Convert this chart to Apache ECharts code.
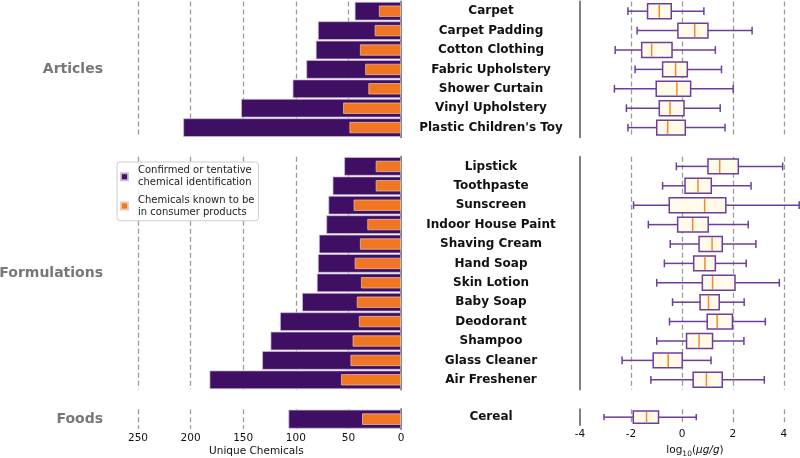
<!DOCTYPE html>
<html>
<head>
<meta charset="utf-8">
<script src="https://cdn.jsdelivr.net/npm/echarts@6/dist/echarts.min.js"></script>
<style>
  html, body { margin: 0; padding: 0; background: #fff; }
  #chart { width: 800px; height: 458px; }
</style>
</head>
<body>
<div id="chart"></div>
<script>
// categories per group, top to bottom
const groupLabels = ['Articles', 'Formulations', 'Foods'];
const articleNames = ['Carpet', 'Carpet Padding', 'Cotton Clothing', 'Fabric Upholstery', 'Shower Curtain', 'Vinyl Upholstery', "Plastic Children's Toy"];
const formulationNames = ['Lipstick', 'Toothpaste', 'Sunscreen', 'Indoor House Paint', 'Shaving Cream', 'Hand Soap', 'Skin Lotion', 'Baby Soap', 'Deodorant', 'Shampoo', 'Glass Cleaner', 'Air Freshener'];
const foodNames = ['Cereal'];

// unique chemicals (bars)
const articleIdentified = [44, 79, 81, 90, 103, 152, 207];
const articleConsumer = [21, 25, 39, 34, 31, 55, 49];
const formulationIdentified = [54, 65, 69, 71, 78, 79, 80, 94, 115, 124, 132, 182];
const formulationConsumer = [24, 24, 45, 32, 39, 44, 38, 42, 40, 46, 48, 57];
const foodIdentified = [107];
const foodConsumer = [37];

// log10(ug/g) boxes: [min, q1, median, q3, max]
const articleBoxes = [
  [-2.12, -1.35, -0.89, -0.42, 0.86],
  [-1.76, -0.16, 0.50, 1.02, 2.75],
  [-2.62, -1.58, -1.19, -0.39, 1.31],
  [-1.84, -0.76, -0.25, 0.21, 1.55],
  [-2.65, -1.01, -0.20, 0.34, 2.01],
  [-2.18, -0.89, -0.47, 0.08, 1.50],
  [-2.12, -0.99, -0.56, 0.13, 1.69],
];
const formulationBoxes = [
  [-0.22, 1.02, 1.48, 2.21, 3.95],
  [-0.76, 0.12, 0.63, 1.15, 2.71],
  [-1.90, -0.50, 0.89, 1.72, 4.60],
  [-1.32, -0.17, 0.42, 1.03, 2.60],
  [-0.46, 0.67, 1.18, 1.58, 2.90],
  [-0.69, 0.46, 0.90, 1.31, 2.52],
  [-0.99, 0.80, 1.20, 2.08, 3.82],
  [-0.37, 0.71, 1.04, 1.46, 2.44],
  [-0.49, 0.99, 1.38, 1.98, 3.27],
  [-0.99, 0.18, 0.67, 1.20, 2.43],
  [-2.35, -1.13, -0.54, 0.01, 1.14],
  [-1.22, 0.44, 0.96, 1.58, 3.23],
];
const foodBoxes = [
  [-3.06, -1.91, -1.39, -0.92, 0.56],
];

const seriesIdentified = 'Confirmed or tentative chemical identification';
const seriesConsumer = 'Chemicals known to be in consumer products';

const groups = [
  { names: articleNames, identified: articleIdentified, consumer: articleConsumer, boxes: articleBoxes },
  { names: formulationNames, identified: formulationIdentified, consumer: formulationConsumer, boxes: formulationBoxes },
  { names: foodNames, identified: foodIdentified, consumer: foodConsumer, boxes: foodBoxes },
];

// layout (pixels)
const panelTop = [1.5, 156.7, 409.3];
const panelHeight = [135.8, 232.8, 19.7];

const purple = '#3f0f63';
const orange = '#f07623';
const boxEdge = '#6c3f9c';
const boxFill = '#fffbe8';
const medianColor = '#f58630';
const gridColor = '#9c9c9c';
const spineColor = '#7f7f7f';

function renderBox(params, api) {
  const row = api.value(0);
  const lo = api.coord([api.value(1), row]);
  const q1 = api.coord([api.value(2), row]);
  const med = api.coord([api.value(3), row]);
  const q3 = api.coord([api.value(4), row]);
  const hi = api.coord([api.value(5), row]);
  const band = api.size([0, 1])[1];
  const half = band * 0.385;
  const cap = band * 0.2;
  const cy = lo[1];
  const seg = (x1, y1, x2, y2, stroke) => ({
    type: 'line',
    shape: { x1, y1, x2, y2 },
    style: { stroke, lineWidth: 1.5 },
  });
  return {
    type: 'group',
    children: [
      seg(lo[0], cy, q1[0], cy, boxEdge),
      seg(q3[0], cy, hi[0], cy, boxEdge),
      seg(lo[0], cy - cap, lo[0], cy + cap, boxEdge),
      seg(hi[0], cy - cap, hi[0], cy + cap, boxEdge),
      {
        type: 'rect',
        shape: { x: q1[0], y: cy - half, width: q3[0] - q1[0], height: half * 2 },
        style: { fill: boxFill, stroke: boxEdge, lineWidth: 1.5 },
      },
      seg(med[0], cy - half + 0.8, med[0], cy + half - 0.8, medianColor),
    ],
  };
}

const grid = [];
const xAxis = [];
const yAxis = [];
const series = [];
const graphic = [];

groups.forEach((g, i) => {
  const last = i === groups.length - 1;
  const top = panelTop[i];
  const height = panelHeight[i];
  grid.push({ left: 111.7, width: 289.3, top, height });
  grid.push({ left: 580, right: 0, top, height });

  // bars: reversed count axis
  xAxis.push({
    type: 'value', gridIndex: 2 * i, min: 0, max: 275, interval: 50, inverse: true,
    axisLine: { show: false }, axisTick: { show: false },
    axisLabel: { show: last, showMaxLabel: false, fontSize: 10.5, color: '#111', margin: 4 },
    splitLine: { show: true, showMinLine: false, showMaxLine: false, lineStyle: { color: gridColor, width: 1.3, type: [5, 3] } },
    name: last ? 'Unique Chemicals' : '', nameLocation: 'middle', nameGap: 17,
    nameTextStyle: { fontSize: 10.5, color: '#111' },
  });
  // boxes: log axis, clipped at the right edge of the figure
  xAxis.push({
    type: 'value', gridIndex: 2 * i + 1, min: -4, max: 4.63, interval: 2,
    axisLine: { show: false }, axisTick: { show: false },
    axisLabel: { show: last, showMaxLabel: false, fontSize: 10.5, color: '#111', margin: 4 },
    splitLine: { show: true, showMinLine: false, showMaxLine: false, lineStyle: { color: gridColor, width: 1.3, type: [5, 3] } },
    name: last ? '{a|log}{s|10}{a|(}{i|μg/g}{a|)}' : '', nameLocation: 'start', nameGap: -115,
    nameTextStyle: {
      align: 'center', verticalAlign: 'top', padding: [18, 0, 0, 0],
      rich: {
        a: { fontSize: 10.5, color: '#111' },
        i: { fontSize: 10.5, color: '#111', fontStyle: 'italic' },
        s: { fontSize: 7.5, color: '#111', padding: [7, 0, 0, 0] },
      },
    },
  });

  const yBar = yAxis.length;
  yAxis.push({
    type: 'category', gridIndex: 2 * i, data: g.names, inverse: true, position: 'right',
    axisLine: { show: true, onZero: false, lineStyle: { color: spineColor, width: 2 } },
    axisTick: { show: false }, axisLabel: { show: false },
  });
  yAxis.push({
    type: 'category', gridIndex: 2 * i, data: g.names, inverse: true, position: 'right',
    axisLine: { show: false, onZero: false }, axisTick: { show: false }, axisLabel: { show: false },
  });
  yAxis.push({
    type: 'category', gridIndex: 2 * i + 1, data: g.names, inverse: true, position: 'left',
    axisLine: { show: true, onZero: false, lineStyle: { color: spineColor, width: 2 } },
    axisTick: { show: false },
    axisLabel: { fontSize: 12, fontWeight: 'bold', color: '#111', align: 'center', margin: 89 },
  });

  series.push({
    name: seriesIdentified, type: 'bar', xAxisIndex: 2 * i, yAxisIndex: yBar,
    data: g.identified, barWidth: '96%',
    itemStyle: { color: purple, borderColor: 'rgba(200,190,215,0.9)', borderWidth: 0.8 },
  });
  series.push({
    name: seriesConsumer, type: 'bar', xAxisIndex: 2 * i, yAxisIndex: yBar + 1,
    data: g.consumer, barWidth: '58%',
    itemStyle: { color: orange, borderColor: 'rgba(240,200,170,0.9)', borderWidth: 0.8 },
  });
  series.push({
    type: 'custom', xAxisIndex: 2 * i + 1, yAxisIndex: yBar + 2,
    renderItem: renderBox,
    encode: { x: [1, 2, 3, 4, 5], y: 0 },
    data: g.boxes.map((b, idx) => [idx].concat(b)),
  });

  graphic.push({
    type: 'text', x: 103, y: top + height / 2,
    style: {
      text: groupLabels[i], font: 'bold 14px "DejaVu Sans"', fill: '#777777',
      align: 'right', verticalAlign: 'middle', textAlign: 'right', textVerticalAlign: 'middle',
    },
  });
});

const legendText = {
  [seriesIdentified]: 'Confirmed or tentative\nchemical identification',
  [seriesConsumer]: 'Chemicals known to be\nin consumer products',
};

const chart = echarts.init(document.getElementById('chart'), null, { renderer: 'canvas' });
chart.setOption({
  animation: false,
  textStyle: { fontFamily: 'DejaVu Sans' },
  grid,
  xAxis,
  yAxis,
  series,
  graphic,
  legend: {
    orient: 'vertical', left: 117, top: 162,
    data: [seriesIdentified, seriesConsumer],
    icon: 'rect', itemWidth: 7, itemHeight: 7, itemGap: 6,
    padding: [3, 4, 3, 3],
    borderColor: '#cccccc', borderWidth: 1, borderRadius: 3,
    backgroundColor: 'rgba(255,255,255,0.85)',
    selectedMode: false,
    formatter: name => legendText[name],
    textStyle: { fontSize: 10, lineHeight: 11.7, color: '#222', padding: [0, 0, 0, 5] },
  },
});
</script>
</body>
</html>
